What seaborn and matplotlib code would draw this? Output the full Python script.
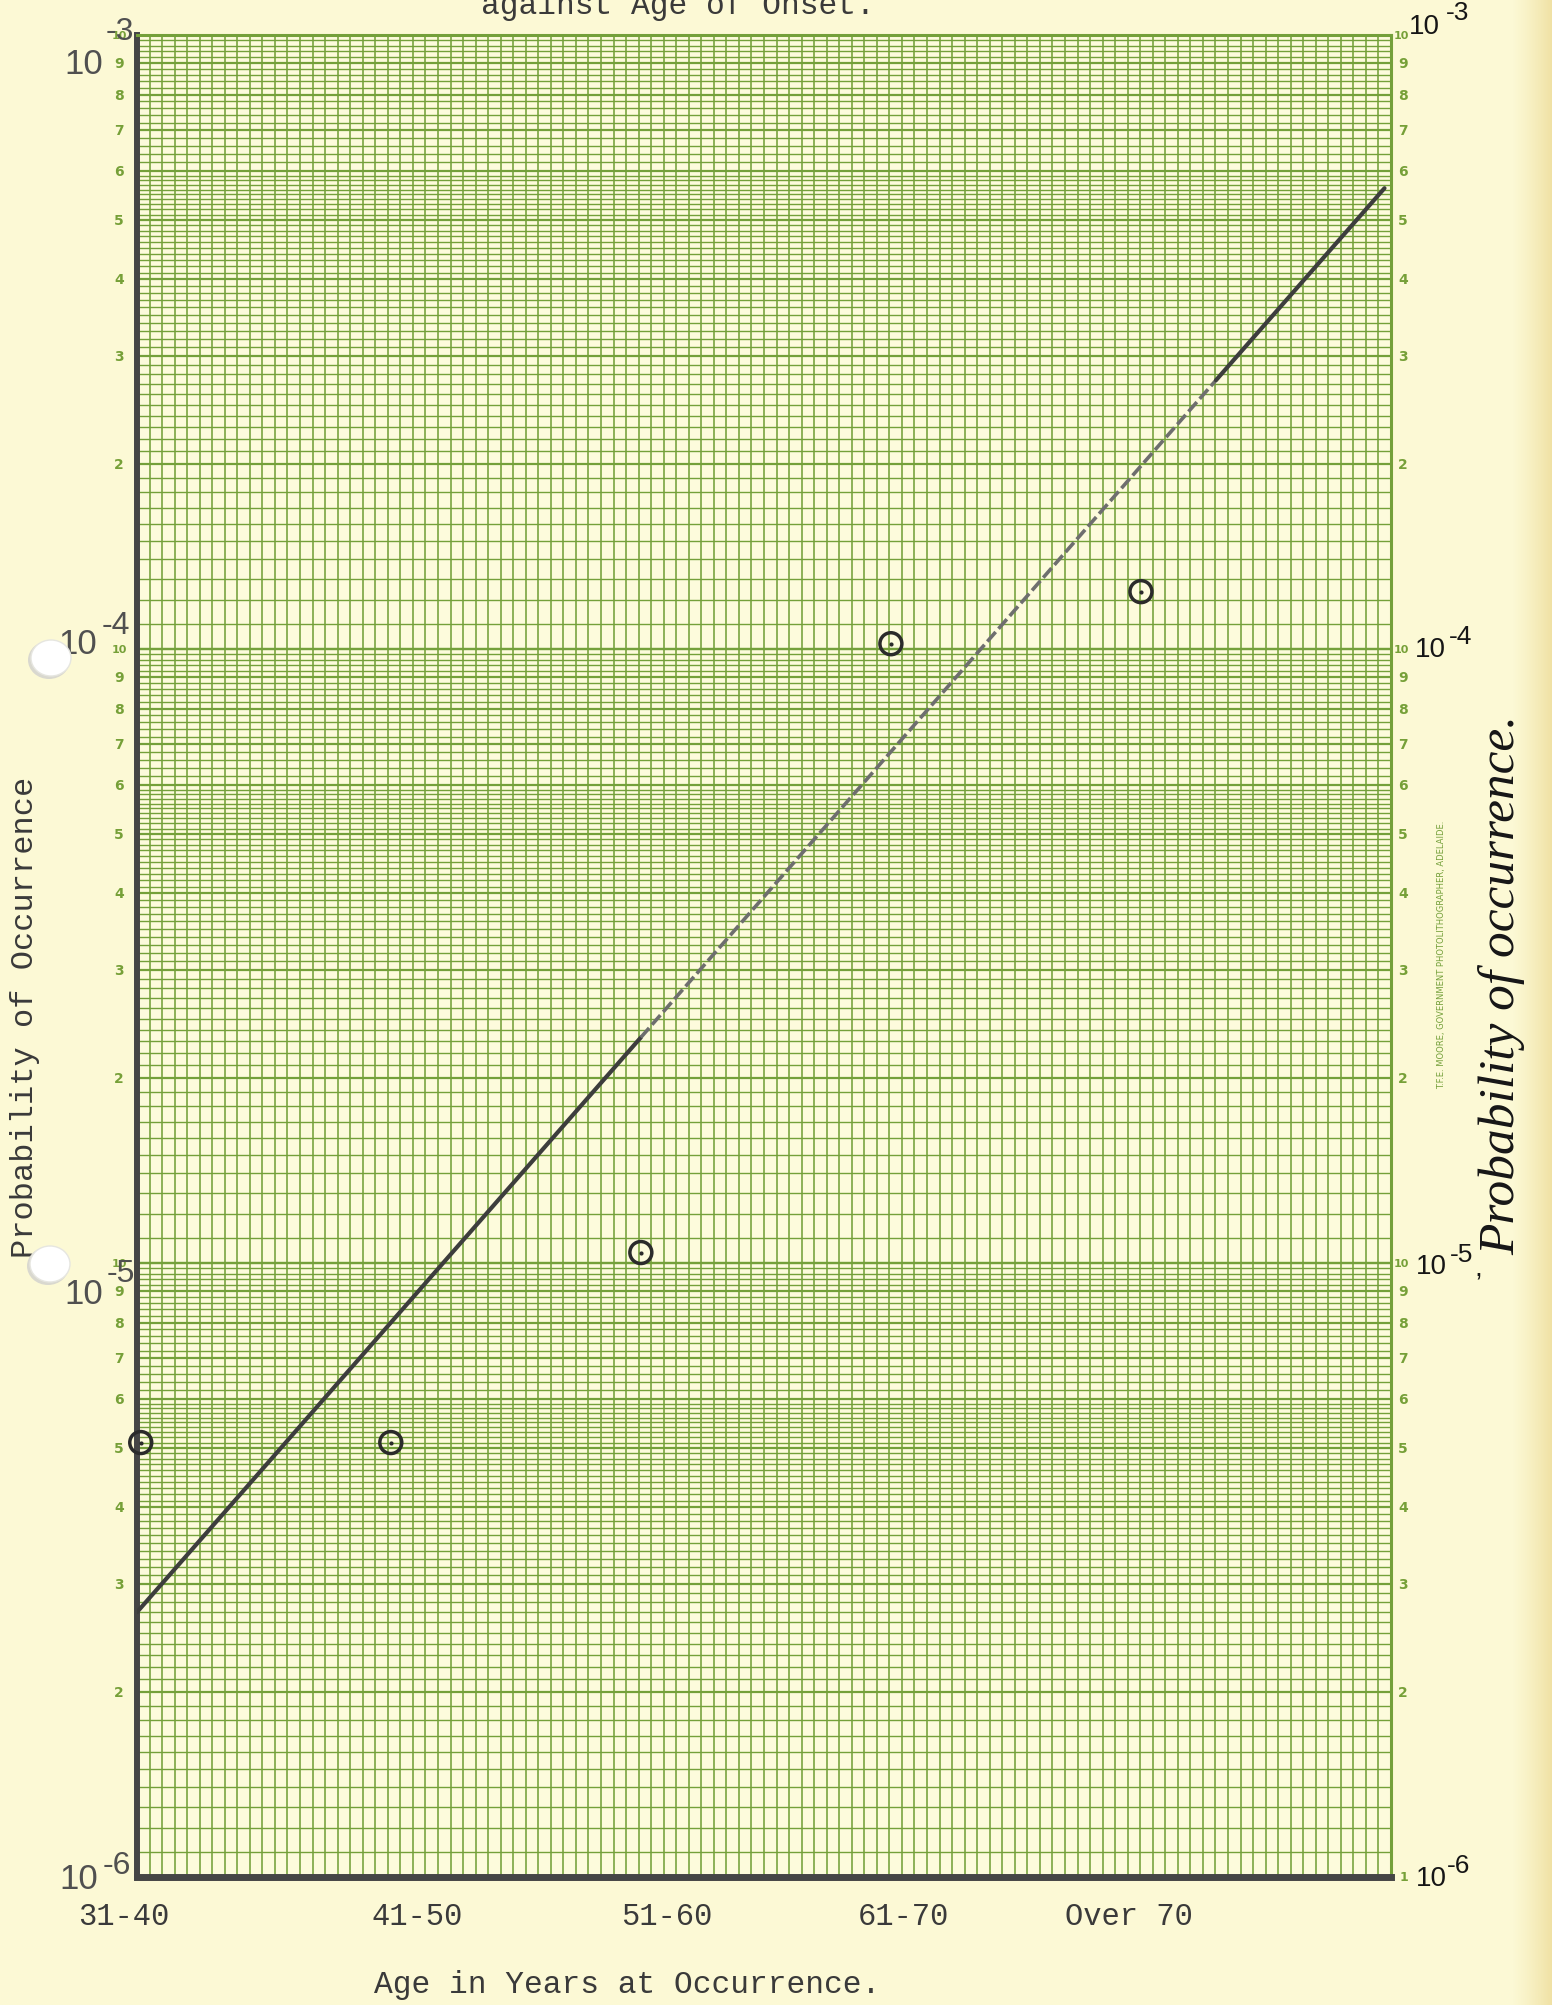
import numpy as np
import matplotlib
matplotlib.use("Agg")
import matplotlib.pyplot as plt
import seaborn as sns
from matplotlib.patches import Ellipse
from matplotlib.ticker import NullLocator
from matplotlib.transforms import (blended_transform_factory, IdentityTransform,
                                   ScaledTranslation)
from matplotlib.colors import to_rgb

# ---------------- data ----------------
age_groups = ["31-40", "41-50", "51-60", "61-70", "Over 70"]
probability = [5.1e-6, 5.1e-6, 1.04e-5, 1.02e-4, 1.24e-4]
# fitted straight line (log scale): solid / dashed / solid pieces
fit_pos = [-0.015, 2.0, 4.3, 4.974]
fit_prob = [2.70e-6, 2.33e-5, 2.74e-4, 5.63e-4]
decade_exponents = ["-3", "-4", "-5", "-6"]
paper_digits = [2, 3, 4, 5, 6, 7, 8, 9]
title_text = "against Age of Onset."
xlabel_text = "Age in Years at Occurrence."
ylabel_text = "Probability of Occurrence"
hand_label = "Probability of occurrence."
printer_text = "T.F.E. MOORE, GOVERNMENT PHOTOLITHOGRAPHER, ADELAIDE."

# ---------------- layout / style ----------------
W, H = 1552, 2006
L, R, T, B = 137, 1391, 36, 1878
PAGE = "#FCF9D5"
CELL = "#FDFBDC"
GREEN = "#74A03A"
GREEN_TXT = "#76A038"
INK = "#3a3a3a"
TYPED = "#505050"
HAND = "#161616"

sns.set_theme(style="white")
plt.rcParams["font.family"] = ["Liberation Mono", "DejaVu Sans Mono", "DejaVu Sans"]

fig = plt.figure(figsize=(W / 100, H / 100), dpi=100)
fig.patch.set_facecolor(PAGE)

# page shading (yellowed right edge)
bg = fig.add_axes([0, 0, 1, 1], zorder=-5)
xs = np.arange(W)
c0 = np.array(to_rgb(PAGE))
c1 = np.array(to_rgb("#F0E1A4"))
t = np.clip((xs - 1512) / (W - 1512), 0, 1) ** 1.2
row = c0[None, :] * (1 - t[:, None]) + c1[None, :] * t[:, None]
bg.imshow(np.repeat(row[None, :, :], 4, axis=0), aspect="auto", extent=[0, 1, 0, 1])
bg.set_axis_off()

ax = fig.add_axes([L / W, 1 - B / H, (R - L) / W, (B - T) / H], zorder=1)
ax.set_facecolor(CELL)
ax.set_yscale("log")

# ---------------- fitted line ----------------
seg_style = [("-", "#3d3d3d", 3.0), ((0, (3.5, 1.2)), "#6e6e6e", 2.6), ("-", "#3d3d3d", 3.0)]
for i, (ls, c, lw) in enumerate(seg_style):
    sns.lineplot(x=fit_pos[i:i + 2], y=fit_prob[i:i + 2], ax=ax, color=c,
                 lw=lw, linestyle=ls, zorder=4)

# ---------------- data points ----------------
xpos = list(range(len(age_groups)))
sns.scatterplot(x=xpos, y=probability, ax=ax, marker="o", s=250,
                facecolor="none", edgecolor="#2b2b2b", linewidth=2.5, zorder=5,
                clip_on=False)
sns.scatterplot(x=xpos, y=probability, ax=ax, marker="o", s=9,
                color="#2b2b2b", linewidth=0, zorder=6, clip_on=False)

# ---------------- x ticks (typed labels, slightly off the points) ----------------
ax.set_xticks(xpos)
ax.set_xticklabels(age_groups, fontsize=22, color=INK)
ax.tick_params(axis="x", length=0, pad=17)
label_offset_px = [-17, 26, 26, 12, -12]
for lab, dx in zip(ax.get_xticklabels(), label_offset_px):
    lab.set_transform(lab.get_transform()
                      + ScaledTranslation(dx / 100, 0, fig.dpi_scale_trans))

ax.set_xlim(-0.015, 5.0)
ax.set_ylim(1e-6, 1e-3)

# ---------------- graph paper ----------------
ytr = ax.get_yaxis_transform()
minor_vals, major_vals = [], []
for e in (-6, -5, -4):
    b = 10.0 ** e
    steps = ([1.0 + 0.1 * i for i in range(1, 10)]
             + [2.0 + 0.1 * i for i in range(1, 30)]
             + [5.0 + 0.1 * i for i in range(1, 10)]
             + [6.0 + 0.2 * i for i in range(1, 20)])
    for s in steps:
        if abs(s - round(s)) < 1e-9:
            continue
        minor_vals.append(s * b)
    for d in range(1, 11):
        major_vals.append(d * b)
ax.hlines(minor_vals, 0, 1, transform=ytr, color=GREEN, lw=1.0, zorder=0.5)
ax.hlines(major_vals, 0, 1, transform=ytr, color=GREEN, lw=1.6, zorder=0.6)
cols = np.linspace(0, 1, 101)[1:-1]
ax.vlines(cols, 0, 1, transform=ax.transAxes, color=GREEN, lw=1.15, zorder=0.5)

# ---------------- axes decoration ----------------
ax.yaxis.set_major_locator(NullLocator())
ax.yaxis.set_minor_locator(NullLocator())
ax.tick_params(axis="y", which="both", length=0, left=False, labelleft=False)
ax.grid(False)

for side in ("left", "bottom"):
    ax.spines[side].set_visible(True)
    ax.spines[side].set_color("#454545")
ax.spines["left"].set_linewidth(4.3)
ax.spines["bottom"].set_linewidth(5.0)
for side in ("top", "right"):
    ax.spines[side].set_visible(True)
    ax.spines[side].set_color(GREEN)
    ax.spines[side].set_linewidth(2.2)

ax.set_xlabel(xlabel_text, fontsize=22.5, color=INK)
ax.xaxis.set_label_coords((627 - L) / (R - L), -(1970 - B) / (B - T))
ax.set_ylabel(ylabel_text, fontsize=23, color=INK)
ax.yaxis.set_label_coords((40 - L) / (R - L), (B - 1017) / (B - T))

fig.text(678 / W, 1 - 14 / H, title_text, ha="center", va="baseline",
         fontsize=22.5, color=INK)

# typed decade labels on the left
left_base_xy = [(84, 64), (78, 645), (84, 1295), (79, 1880)]
left_exp_xy = [(120, 32), (116, 626), (121, 1274), (117, 1866)]
for (bx, by), (ex, ey), lab in zip(left_base_xy, left_exp_xy, decade_exponents):
    fig.text(bx / W, 1 - by / H, "10", ha="center", va="center", fontsize=25,
             color=TYPED, family="Liberation Sans")
    fig.text(ex / W, 1 - ey / H, lab, ha="center", va="center", fontsize=23,
             color=TYPED, family="Liberation Sans")

# handwritten decade labels on the right
right_base_xy = [(1424, 27), (1430, 650), (1431, 1267), (1431, 1879)]
right_exp_xy = [(1458, 13), (1461, 637), (1462, 1255), (1459, 1866)]
for (bx, by), (ex, ey), lab in zip(right_base_xy, right_exp_xy, decade_exponents):
    fig.text(bx / W, 1 - by / H, "10", ha="center", va="center", fontsize=20,
             color=HAND, family="Liberation Sans")
    fig.text(ex / W, 1 - ey / H, lab, ha="center", va="center", fontsize=19,
             color=HAND, family="Liberation Sans")
fig.text(1478 / W, 1 - 1270 / H, ",", ha="center", va="center", fontsize=20,
         color=HAND, family="Liberation Sans")

# printed graph-paper numbering (both sides)
btr = blended_transform_factory(fig.transFigure, ax.transData)
for e in (-6, -5, -4):
    b = 10.0 ** e
    for d in paper_digits:
        for xp in (119, 1403):
            ax.text(xp / W, d * b, str(d), transform=btr, ha="center", va="center",
                    fontsize=10, fontweight="bold", color=GREEN_TXT,
                    family="DejaVu Sans")
    for xp in (119, 1401):
        ax.text(xp / W, 10 * b, "10", transform=btr, ha="center", va="center",
                fontsize=8, fontweight="bold", color=GREEN_TXT, family="DejaVu Sans")
ax.text(1404 / W, 1e-6, "1", transform=btr, ha="center", va="center",
        fontsize=9, fontweight="bold", color=GREEN_TXT, family="DejaVu Sans")

fig.text(1442 / W, 1 - 955 / H, printer_text, rotation=90, ha="center", va="center",
         fontsize=6, color=GREEN, family="DejaVu Sans")

fig.text(1514 / W, 1 - 985 / H, hand_label, rotation=90, rotation_mode="anchor",
         ha="center", va="baseline", fontsize=37, color=HAND,
         family="Liberation Serif", style="italic")

# punch holes in the paper
for (hx, hy) in [(51, 659), (50, 1265)]:
    sh = Ellipse((hx - 2, H - hy - 2), 42, 38, transform=IdentityTransform(),
                 facecolor="#d9d8cf", edgecolor="none", zorder=20)
    ho = Ellipse((hx, H - hy), 40, 36, transform=IdentityTransform(),
                 facecolor="#ffffff", edgecolor="#e6e6e0", lw=1.0, zorder=21)
    fig.add_artist(sh)
    fig.add_artist(ho)

fig.savefig("out.png", dpi=100, facecolor=PAGE)
